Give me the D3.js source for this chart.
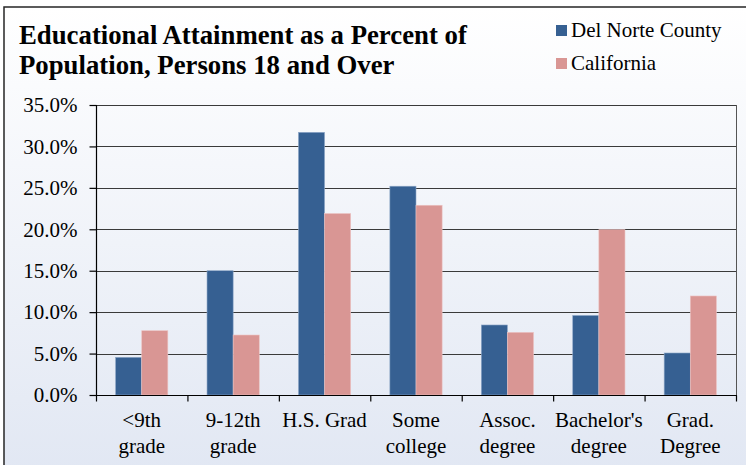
<!DOCTYPE html>
<html><head><meta charset="utf-8">
<script src="https://cdn.jsdelivr.net/npm/d3@7"></script>
<style>html,body{margin:0;padding:0;background:#fff;overflow:hidden}
svg text{font-family:"Liberation Serif";}</style>
</head><body>
<svg id="c" width="746" height="465"></svg>
<script>
const categories = ["<9th grade","9-12th grade","H.S. Grad","Some college","Assoc. degree","Bachelor's degree","Grad. Degree"];
const categoryLines = [["<9th","grade"],["9-12th","grade"],["H.S. Grad"],["Some","college"],["Assoc.","degree"],["Bachelor's","degree"],["Grad.","Degree"]];
const seriesNames = ["Del Norte County","California"];
const delNorte = [0.0455, 0.150, 0.317, 0.252, 0.0845, 0.096, 0.0507];
const california = [0.0776, 0.0724, 0.219, 0.229, 0.0756, 0.1995, 0.1195];
const yTicks = [0,0.05,0.10,0.15,0.20,0.25,0.30,0.35];
const colors = ["#366092","#d99694"];
const titleLines = ["Educational Attainment as a Percent of","Population, Persons 18 and Over"];

const svg = d3.select("#c");
const defs = svg.append("defs");
const g = defs.append("linearGradient").attr("id","bg").attr("x1",0).attr("y1",0).attr("x2",0).attr("y2",1);
g.append("stop").attr("offset","0%").attr("stop-color","#ffffff");
g.append("stop").attr("offset","100%").attr("stop-color","#e1e7f3");

svg.append("rect").attr("x",4).attr("y",7).attr("width",760).attr("height",470)
  .attr("fill","url(#bg)").attr("stroke","#262626").attr("stroke-width",1.5);

const serif = '"Liberation Serif"';
const L = 96, R = 736, T = 105, B = 395;
const x = d3.scaleBand().domain(categories).range([L,R]).padding(0);
const xs = d3.scaleBand().domain(seriesNames).range([0,x.bandwidth()]).paddingInner(0).paddingOuter(0.75);
const y = d3.scaleLinear().domain([0,0.35]).range([B,T]);

// gridlines
svg.append("g").selectAll("line").data(yTicks.slice(1)).join("line")
  .attr("x1",L).attr("x2",R).attr("y1",d=>Math.round(y(d))+0.5).attr("y2",d=>Math.round(y(d))+0.5)
  .attr("stroke","#3a3a3a").attr("stroke-width",1);
// right border
svg.append("line").attr("x1",R+0.5).attr("x2",R+0.5).attr("y1",T).attr("y2",B).attr("stroke","#555").attr("stroke-width",1);

// bars
const data = categories.map((c,i)=>({c, vals:[delNorte[i],california[i]]}));
const grp = svg.append("g").selectAll("g").data(data).join("g").attr("transform",d=>`translate(${x(d.c)},0)`);
grp.selectAll("rect").data(d=>d.vals.map((v,j)=>({s:seriesNames[j],v,j}))).join("rect")
  .attr("x",d=>xs(d.s)).attr("width",xs.bandwidth())
  .attr("y",d=>y(d.v)).attr("height",d=>B-y(d.v))
  .attr("fill",d=>colors[d.j])
  .attr("stroke",d=>d.j===0?"#8fa8c8":"#ecc4c3").attr("stroke-width",0.6);

// y axis
const yAxis = d3.axisLeft(y).tickValues(yTicks).tickFormat(d3.format(".1%")).tickSize(7).tickPadding(12);
const ya = svg.append("g").attr("transform",`translate(${L+0.5},0)`).call(yAxis);
ya.attr("font-family",serif).attr("font-size",21);
ya.select(".domain").attr("stroke","#000").attr("stroke-width",1.2).attr("d",`M0,${T}V${B}`);
ya.selectAll(".tick line").attr("stroke","#000").attr("stroke-width",1.2);
ya.selectAll(".tick text").style("font-family",serif).style("font-size","21px").attr("fill","#000");

// x axis
const xa = svg.append("g").attr("transform",`translate(0,${B+0.5})`);
xa.append("line").attr("x1",L).attr("x2",R+1).attr("y1",0).attr("y2",0).attr("stroke","#000").attr("stroke-width",1.2);
const bounds = categories.map(c=>x(c)).concat([R]);
xa.selectAll("line.tk").data(bounds).join("line").attr("class","tk")
  .attr("x1",d=>d+0.5).attr("x2",d=>d+0.5).attr("y1",0).attr("y2",6).attr("stroke","#000").attr("stroke-width",1.2);
const lbl = svg.append("g").selectAll("text").data(categories).join("text")
  .style("font-family",serif).style("font-size","21px").attr("text-anchor","middle").attr("fill","#000");
lbl.each(function(c,i){
  const t = d3.select(this);
  categoryLines[i].forEach((ln,k)=>{
    t.append("tspan").attr("x",x(c)+x.bandwidth()/2).attr("y",427+k*26).text(ln);
  });
});

// title
const tt = svg.append("g").selectAll("text").data(titleLines).join("text")
  .attr("x",19).attr("y",(d,i)=>44+i*30)
  .style("font-family",serif).style("font-weight","bold").style("font-size","25px").attr("fill","#000")
  .text(d=>d);
const w0 = tt.node().getComputedTextLength();
tt.style("font-size",(25*448/w0)+"px");

// legend
const lg = svg.append("g").selectAll("g").data(seriesNames).join("g")
  .attr("transform",(d,i)=>`translate(556,${25+i*33})`);
lg.append("rect").attr("width",11).attr("height",11).attr("fill",(d,i)=>colors[i]);
lg.append("text").attr("x",15).attr("y",12).style("font-family",serif).style("font-size","21px").attr("fill","#000").text(d=>d);
</script>
</body></html>
